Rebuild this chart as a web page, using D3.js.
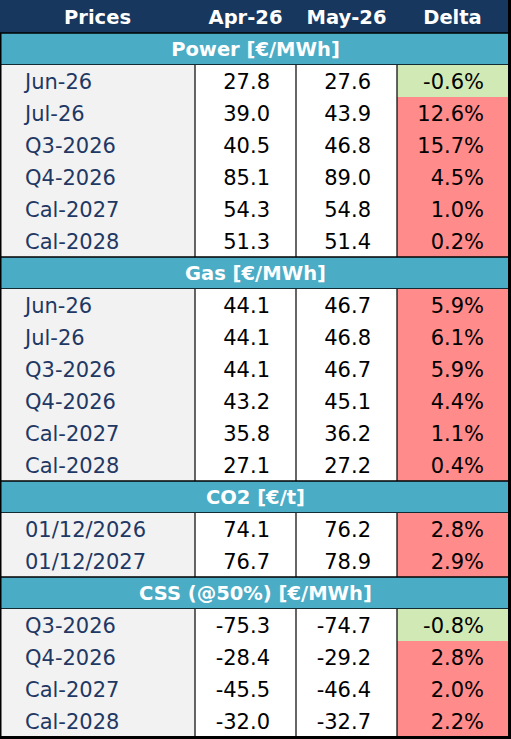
<!DOCTYPE html>
<html>
<head>
<meta charset="utf-8">
<script src="https://cdn.jsdelivr.net/npm/d3@7"></script>
<style>
  body { margin: 0; background: #fff; }
  text { font-family: "DejaVu Sans", sans-serif; }
</style>
</head>
<body>
<script>
width = 511;
height = 739;

// column headers
const columns = ["Prices", "Apr-26", "May-26", "Delta"];

// sections and their rows
const sections = ["Power [€/MWh]", "Gas [€/MWh]", "CO2 [€/t]", "CSS (@50%) [€/MWh]"];
const labels = [
    ["Jun-26", "Jul-26", "Q3-2026", "Q4-2026", "Cal-2027", "Cal-2028"],
    ["Jun-26", "Jul-26", "Q3-2026", "Q4-2026", "Cal-2027", "Cal-2028"],
    ["01/12/2026", "01/12/2027"],
    ["Q3-2026", "Q4-2026", "Cal-2027", "Cal-2028"]
];
const apr = [
    [27.8, 39.0, 40.5, 85.1, 54.3, 51.3],
    [44.1, 44.1, 44.1, 43.2, 35.8, 27.1],
    [74.1, 76.7],
    [-75.3, -28.4, -45.5, -32.0]
];
const may = [
    [27.6, 43.9, 46.8, 89.0, 54.8, 51.4],
    [46.7, 46.8, 46.7, 45.1, 36.2, 27.2],
    [76.2, 78.9],
    [-74.7, -29.2, -46.4, -32.7]
];
const delta = [
    [-0.6, 12.6, 15.7, 4.5, 1.0, 0.2],
    [5.9, 6.1, 5.9, 4.4, 1.1, 0.4],
    [2.8, 2.9],
    [-0.8, 2.8, 2.0, 2.2]
];

const colEdges = [0, 195, 296, 397, 508];
// plain hyphen as minus sign, like the spreadsheet
const fmt = d3.formatLocale({decimal: ".", thousands: ",", grouping: [3], currency: ["", ""], minus: "-"}).format(".1f");

// flatten to one list of rows
let rows = [];
sections.forEach((s, si) => {
    rows.push({type: "section", title: s});
    labels[si].forEach((l, i) => {
        rows.push({type: "data", label: l, apr: apr[si][i], may: may[si][i], delta: delta[si][i]});
    });
});

const svg = d3.select('body')
            .append('svg')
            .attr('width', width)
            .attr('height', height)
            .attr('viewBox', [0, 0, width, height]);

const headH = 33;
const rowH = 32;
y = d3.scaleLinear()
        .domain([0, rows.length])
        .range([headH, headH + rows.length * rowH]);

// header
svg.append("rect")
    .attr("x", 0).attr("y", 0)
    .attr("width", width).attr("height", headH)
    .attr("fill", "#17375e");

svg.selectAll("text.head")
    .data(columns)
    .enter()
    .append("text")
    .attr("class", "head")
    .attr("x", (d, i) => (colEdges[i] + colEdges[i + 1]) / 2)
    .attr("y", headH / 2)
    .attr("dy", "0.36em")
    .attr("text-anchor", "middle")
    .attr("fill", "white")
    .attr("font-weight", "bold")
    .attr("font-size", 19.5)
    .text(d => d);

const g = svg.selectAll("g.row")
    .data(rows)
    .enter()
    .append("g")
    .attr("class", "row")
    .attr("transform", (d, i) => `translate(0,${y(i)})`);

// section rows
const sec = g.filter(d => d.type == "section");
sec.append("rect")
    .attr("width", width).attr("height", rowH)
    .attr("fill", "#4bacc6");
sec.append("text")
    .attr("x", width / 2)
    .attr("y", rowH / 2)
    .attr("dy", "0.36em")
    .attr("text-anchor", "middle")
    .attr("fill", "white")
    .attr("font-weight", "bold")
    .attr("font-size", 19.5)
    .text(d => d.title);

// data rows
const dat = g.filter(d => d.type == "data");
dat.append("rect")
    .attr("x", colEdges[0]).attr("width", colEdges[1] - colEdges[0])
    .attr("height", rowH)
    .attr("fill", "#f2f2f2");
dat.append("rect")
    .attr("x", colEdges[1]).attr("width", colEdges[3] - colEdges[1])
    .attr("height", rowH)
    .attr("fill", "white");
dat.append("rect")
    .attr("x", colEdges[3]).attr("width", colEdges[4] - colEdges[3])
    .attr("height", rowH)
    .attr("fill", d => d.delta < 0 ? "#d1e9b5" : "#ff8b8b");

dat.append("text")
    .attr("x", 25)
    .attr("y", rowH / 2)
    .attr("dy", "0.36em")
    .attr("fill", "#1f3864")
    .attr("font-size", 21)
    .text(d => d.label);
dat.append("text")
    .attr("x", 270)
    .attr("y", rowH / 2)
    .attr("dy", "0.36em")
    .attr("text-anchor", "end")
    .attr("font-size", 21)
    .text(d => fmt(d.apr));
dat.append("text")
    .attr("x", 371)
    .attr("y", rowH / 2)
    .attr("dy", "0.36em")
    .attr("text-anchor", "end")
    .attr("font-size", 21)
    .text(d => fmt(d.may));
dat.append("text")
    .attr("x", 484)
    .attr("y", rowH / 2)
    .attr("dy", "0.36em")
    .attr("text-anchor", "end")
    .attr("font-size", 21)
    .text(d => fmt(d.delta) + "%");

// vertical lines between columns in data rows
colEdges.slice(1, 4).forEach(x => {
    dat.append("line")
        .attr("x1", x).attr("x2", x)
        .attr("y1", 0).attr("y2", rowH)
        .attr("stroke", "black")
        .attr("stroke-width", 1.2);
});

// horizontal lines around section rows
sec.append("line")
    .attr("x1", 0).attr("x2", width)
    .attr("y1", 0).attr("y2", 0)
    .attr("stroke", "black").attr("stroke-width", 1.5);
sec.append("line")
    .attr("x1", 0).attr("x2", width)
    .attr("y1", rowH).attr("y2", rowH)
    .attr("stroke", "black").attr("stroke-width", 1.5);

// outer border
const bottom = y(rows.length);
svg.append("line")
    .attr("x1", 0.75).attr("x2", 0.75)
    .attr("y1", headH).attr("y2", height)
    .attr("stroke", "black").attr("stroke-width", 1.5);
svg.append("rect")
    .attr("x", 508).attr("y", 0)
    .attr("width", 3).attr("height", height)
    .attr("fill", "black");
svg.append("rect")
    .attr("x", 0).attr("y", bottom - 1)
    .attr("width", width).attr("height", height - bottom + 1)
    .attr("fill", "black");
</script>
</body>
</html>
